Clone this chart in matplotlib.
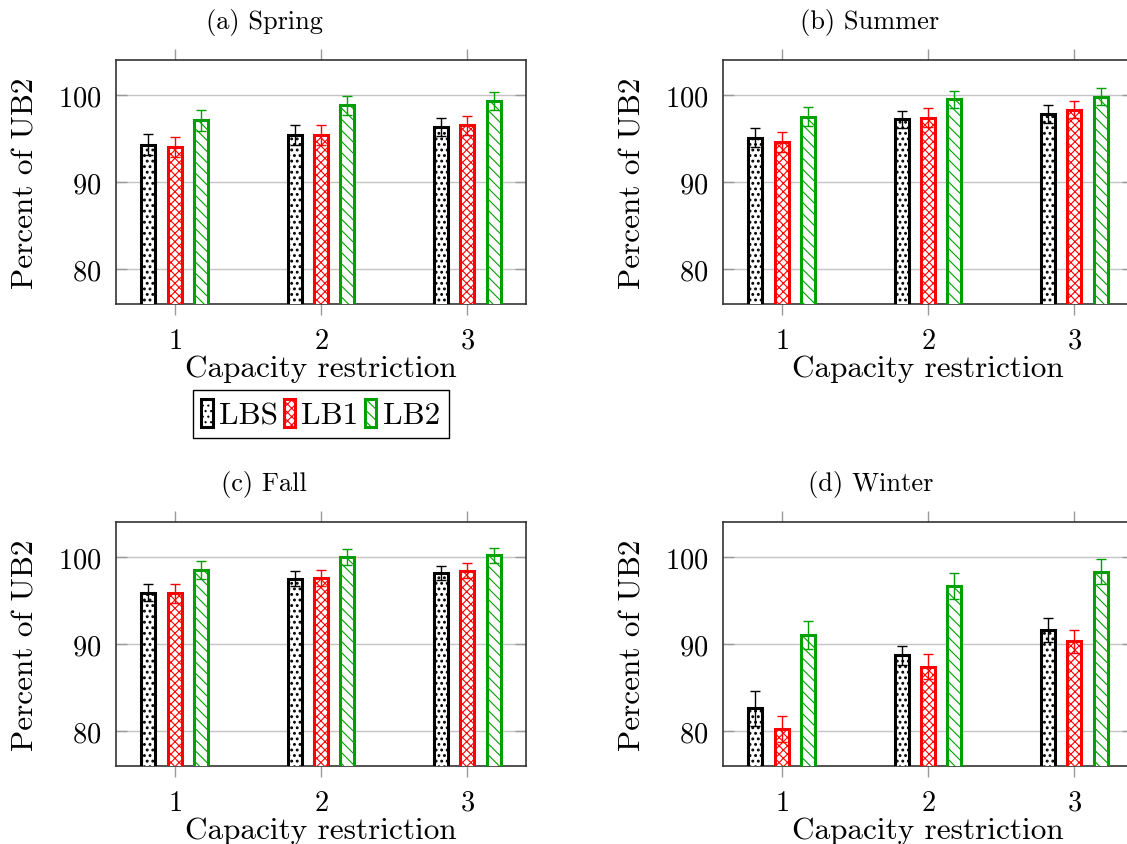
import matplotlib
matplotlib.use("Agg")
import matplotlib.pyplot as plt
import numpy as np

plt.rcParams['font.family'] = ['cmr10', 'DejaVu Serif']
plt.rcParams['axes.formatter.use_mathtext'] = True
plt.rcParams['hatch.linewidth'] = 0.8

# capacity restrictions on the x axis
capacity = [1, 2, 3]
series_names = ["LBS", "LB1", "LB2"]

# bar heights (percent of UB2) and error bar half-widths per season
spring_vals = [[94.3, 95.4, 96.3], [94.0, 95.4, 96.5], [97.1, 98.8, 99.3]]
spring_err = [[1.2, 1.1, 1.0], [1.15, 1.1, 1.05], [1.2, 1.1, 1.05]]
summer_vals = [[95.1, 97.2, 97.8], [94.6, 97.4, 98.3], [97.5, 99.5, 99.8]]
summer_err = [[1.05, 1.0, 1.0], [1.1, 1.05, 1.0], [1.05, 1.0, 0.95]]
fall_vals = [[95.9, 97.5, 98.2], [95.8, 97.6, 98.4], [98.5, 100.0, 100.2]]
fall_err = [[1.0, 0.9, 0.8], [1.05, 0.9, 0.85], [1.0, 0.9, 0.85]]
winter_vals = [[82.6, 88.7, 91.6], [80.2, 87.4, 90.3], [91.0, 96.7, 98.3]]
winter_err = [[2.0, 1.1, 1.4], [1.5, 1.4, 1.35], [1.6, 1.5, 1.4]]

titles = ["(a) Spring", "(b) Summer", "(c) Fall", "(d) Winter"]
seasons = [(spring_vals, spring_err), (summer_vals, summer_err),
           (fall_vals, fall_err), (winter_vals, winter_err)]

colors = ["black", "#ff0000", "#00a000"]
hatches = ["...", "xxxx", "\\\\\\"]
hatch_lw = [1.3, 0.8, 0.8]
offsets = [-0.18, 0.0, 0.18]
bar_w = 0.095

W, H = 1127, 845
fig = plt.figure(figsize=(W / 100, H / 100), dpi=100)

# axes boxes in pixels: left, top
boxes = [(116, 61), (723, 61), (116, 523), (723, 523)]
title_pos = [(264, 22), (870, 22), (264, 485), (871, 485)]
ax_w, ax_h = 410, 244

x = np.array(capacity)
handles = []
for i, ((vals, errs), (lx, ty)) in enumerate(zip(seasons, boxes)):
    ax = fig.add_axes([lx / W, 1 - (ty + ax_h) / H, ax_w / W, ax_h / H])
    for j in range(3):
        with plt.rc_context({'hatch.linewidth': hatch_lw[j]}):
            b = ax.bar(x + offsets[j], vals[j], width=bar_w, bottom=0,
                       facecolor="white", edgecolor=colors[j],
                       hatch=hatches[j], linewidth=2.2,
                       label=series_names[j], zorder=3)
        ax.errorbar(x + offsets[j], vals[j], yerr=errs[j], fmt="none",
                    ecolor=colors[j], elinewidth=1.0, capsize=3.8,
                    capthick=1.0, zorder=4)
        if i == 0:
            handles.append(b)
    ax.set_xlim(0.6, 3.4)
    ax.set_ylim(76, 104)
    ax.set_xticks(capacity)
    ax.set_yticks([80, 90, 100])
    ax.grid(axis="y", color="#c4c4c4", linewidth=1.0, zorder=0)
    ax.set_axisbelow(True)
    ax.tick_params(axis="x", direction="out", top=True, length=8,
                   color="#9a9a9a", width=1.0, labelsize=20.5, pad=9)
    ax.tick_params(axis="y", direction="in", right=True, length=8,
                   color="#9a9a9a", width=1.0, labelsize=20.5, pad=10.5)
    for s in ax.spines.values():
        s.set_color("#333333")
        s.set_linewidth(1.2)
    ax.set_xlabel("Capacity restriction", fontsize=22.5, labelpad=0)
    ax.set_ylabel("Percent of UB2", fontsize=22.5, labelpad=13)
    tx, tyy = title_pos[i]
    fig.text(tx / W, 1 - tyy / H, titles[i], fontsize=19,
             ha="center", va="center")

leg = fig.legend(handles=handles, loc="upper center",
                 bbox_to_anchor=(320.5 / W, 1 - 391 / H), ncol=3,
                 fontsize=22.5, handlelength=0.36, handleheight=1.0,
                 handletextpad=0.2, columnspacing=0.2, borderpad=0.28,
                 borderaxespad=0, fancybox=False, edgecolor="black",
                 framealpha=1)
leg.get_frame().set_linewidth(1.0)

fig.savefig("out.png", dpi=100)
